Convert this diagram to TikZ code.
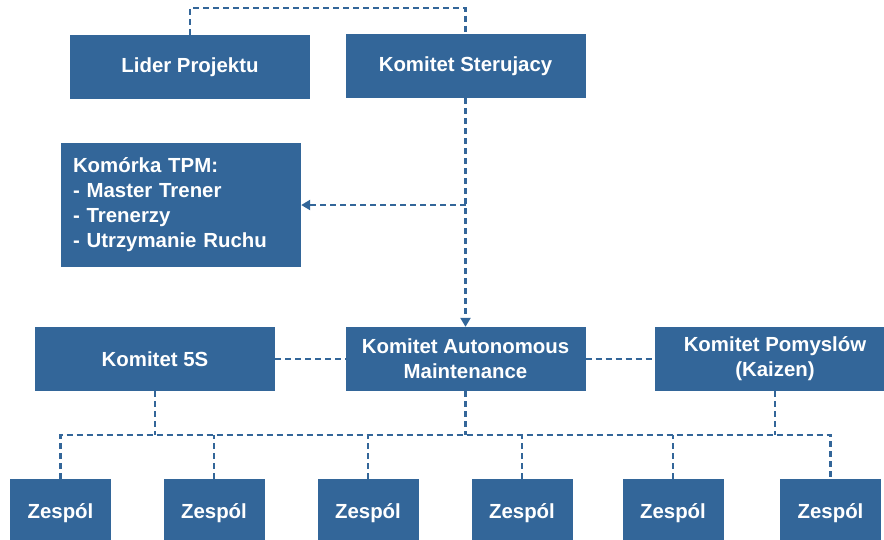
\documentclass[tikz,border=0pt]{standalone}
\usepackage{fontspec}
\setmainfont{Liberation Sans}
\usetikzlibrary{arrows.meta}
\definecolor{tpmblue}{RGB}{51,102,153}

\begin{document}
\begin{tikzpicture}[x=1pt,y=-1pt,
		box/.style={fill=tpmblue,text=white,font=\bfseries\fontsize{20.4}{25}\selectfont,minimum width=240pt,minimum height=64pt,inner sep=0pt,align=center},
		team/.style={box,minimum width=101pt,minimum height=68pt},
		link/.style={draw=tpmblue,line width=2.6pt,dash pattern=on 6pt off 4pt},
		tip/.style={-{Triangle[length=9pt,width=10pt]}}]
		\useasboundingbox (0,0) rectangle (884,539);
		
		\node[box] (lider) at (190,67) {Lider Projektu};
		\node[box] (sterujacy) at (465.5,66) {Komitet Sterujacy};
		\node[box,minimum height=124pt,text width=216pt,align=left] (tpm) at (181,205) {Komórka TPM:\\- Master Trener\\- Trenerzy\\- Utrzymanie Ruchu};
		
		\node[box] (k5s) at (155,359) {Komitet 5S};
		\node[box] (am) at (465.5,359) {Komitet Autonomous\\Maintenance};
		\node[box] (kaizen) at (775,359) {Komitet Pomyslów\\(Kaizen)};
		
		\foreach \x [count=\i] in {60.5,214,368,522,673,830.5}
			\node[team] (z\i) at (\x,513) {Zespól};
		
		\coordinate (top) at (0,8);
		\coordinate (bus) at (0,435);
		
		\draw[link] (lider.north) -- (lider.north |- top) -| (sterujacy.north);
		\draw[link,tip] (sterujacy.south) -- (am.north);
		\draw[link,tip] (sterujacy.south |- tpm.east) -- (tpm.east);
		\draw[link] (k5s) -- (am);
		\draw[link] (am) -- (kaizen);
		
		%\draw[link] (z1.north |- bus) -- (z6.north |- bus);
		\draw[link] (z1.north) -- (z1.north |- bus) -- (z6.north |- bus) -- (z6.north);
		\foreach \n in {z2,z3,z4,z5}
			\draw[link] (\n.north) -- (\n.north |- bus);
		\foreach \n in {k5s,am,kaizen}
			\draw[link] (\n.south) -- (\n.south |- bus);
		
	\end{tikzpicture}
\end{document}
